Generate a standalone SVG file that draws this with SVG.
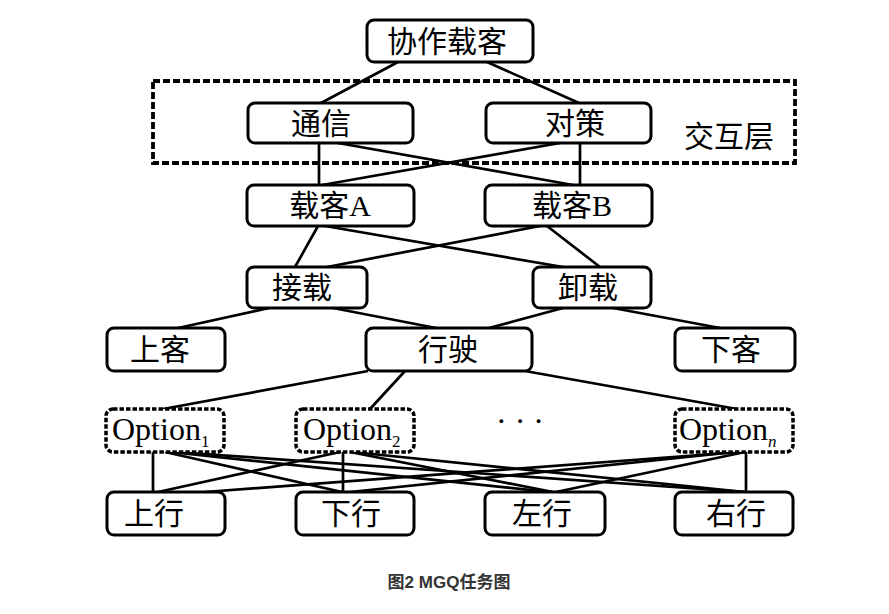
<svg xmlns="http://www.w3.org/2000/svg" width="889" height="614" viewBox="0 0 889 614">
<style>
.box{fill:#fff;stroke:#000;stroke-width:3}
.dbox{fill:#fff;stroke:#000;stroke-width:3.5;stroke-dasharray:4.5 2}
.zh{font-family:"Liberation Serif","Noto Sans CJK SC",serif;font-size:30px;fill:#000;text-anchor:middle}
.opt{font-family:"Liberation Serif",serif;font-size:32px;fill:#000}
.sub{font-size:17px}
#connectors line{stroke:#000;stroke-width:2.7}
</style>
<rect width="889" height="614" fill="#fff"/>
<g id="layer">
<rect x="153" y="81" width="642" height="82" fill="none" stroke="#000" stroke-width="3.8" stroke-dasharray="7 3"/>
<text class="zh" x="729" y="147">交互层</text>
</g>
<g id="connectors">
<line x1="398" y1="62" x2="321" y2="103"/>
<line x1="487" y1="62" x2="579" y2="103"/>
<line x1="319" y1="143" x2="319" y2="185"/>
<line x1="338" y1="143" x2="573" y2="185"/>
<line x1="560" y1="143" x2="322" y2="185"/>
<line x1="580" y1="143" x2="580" y2="185"/>
<line x1="318" y1="226" x2="295" y2="267"/>
<line x1="325" y1="226" x2="563" y2="267"/>
<line x1="540" y1="226" x2="327" y2="267"/>
<line x1="547" y1="226" x2="600" y2="267"/>
<line x1="269" y1="308" x2="178" y2="328"/>
<line x1="333" y1="308" x2="436" y2="328"/>
<line x1="563" y1="308" x2="489" y2="328"/>
<line x1="613" y1="308" x2="720" y2="328"/>
<line x1="368" y1="371" x2="163" y2="409"/>
<line x1="405" y1="371" x2="370" y2="409"/>
<line x1="525" y1="371" x2="737" y2="409"/>
<line x1="153" y1="452" x2="153" y2="492"/>
<line x1="343" y1="452" x2="343" y2="492"/>
<line x1="746" y1="452" x2="746" y2="492"/>
<line x1="165" y1="452" x2="342" y2="492"/>
<line x1="170" y1="452" x2="550" y2="492"/>
<line x1="175" y1="452" x2="745" y2="492"/>
<line x1="340" y1="452" x2="158" y2="492"/>
<line x1="350" y1="452" x2="553" y2="492"/>
<line x1="352" y1="452" x2="745" y2="492"/>
<line x1="740" y1="452" x2="205" y2="492"/>
<line x1="735" y1="452" x2="350" y2="492"/>
<line x1="745" y1="452" x2="556" y2="492"/>
</g>
<g id="n-root"><rect class="box" x="367" y="20" width="166" height="42" rx="7"/><text class="zh" x="447" y="52">协作载客</text></g>
<g id="n-comm"><rect class="box" x="248" y="103" width="165" height="40" rx="7"/><text class="zh" x="321" y="134">通信</text></g>
<g id="n-strat"><rect class="box" x="486" y="103" width="165" height="40" rx="7"/><text class="zh" x="575" y="134">对策</text></g>
<g id="n-carA"><rect class="box" x="247" y="185" width="167" height="41" rx="7"/><text class="zh" x="330" y="216">载客A</text></g>
<g id="n-carB"><rect class="box" x="485" y="185" width="167" height="41" rx="7"/><text class="zh" x="572" y="216">载客B</text></g>
<g id="n-pick"><rect class="box" x="247" y="267" width="120" height="41" rx="7"/><text class="zh" x="302" y="298">接载</text></g>
<g id="n-drop"><rect class="box" x="533" y="267" width="118" height="41" rx="7"/><text class="zh" x="588" y="298">卸载</text></g>
<g id="n-board"><rect class="box" x="107" y="328" width="118" height="43" rx="7"/><text class="zh" x="160" y="360">上客</text></g>
<g id="n-drive"><rect class="box" x="366" y="328" width="166" height="43" rx="7"/><text class="zh" x="448" y="360">行驶</text></g>
<g id="n-alight"><rect class="box" x="675" y="328" width="120" height="43" rx="7"/><text class="zh" x="731" y="360">下客</text></g>
<g id="n-opt1"><rect class="dbox" x="106" y="409" width="118" height="43" rx="7"/><text class="opt" x="112" y="440">Option<tspan class="sub" dy="7">1</tspan></text></g>
<g id="n-opt2"><rect class="dbox" x="296" y="409" width="118" height="43" rx="7"/><text class="opt" x="303" y="440">Option<tspan class="sub" dy="7">2</tspan></text></g>
<g id="n-dots"><text class="opt" x="520" y="432" text-anchor="middle" font-size="24">· · ·</text></g>
<g id="n-optn"><rect class="dbox" x="675" y="409" width="118" height="43" rx="7"/><text class="opt" x="679" y="440">Option<tspan class="sub" dy="7" font-style="italic">n</tspan></text></g>
<g id="n-up"><rect class="box" x="107" y="492" width="118" height="43" rx="7"/><text class="zh" x="154" y="524">上行</text></g>
<g id="n-down"><rect class="box" x="296" y="492" width="118" height="43" rx="7"/><text class="zh" x="351" y="524">下行</text></g>
<g id="n-left"><rect class="box" x="485" y="492" width="120" height="43" rx="7"/><text class="zh" x="542" y="524">左行</text></g>
<g id="n-right"><rect class="box" x="675" y="492" width="118" height="43" rx="7"/><text class="zh" x="736" y="524">右行</text></g>
<text x="449" y="588" text-anchor="middle" font-family="'Liberation Sans','Noto Sans CJK SC',sans-serif" font-weight="bold" font-size="17" fill="#333">图2 MGQ任务图</text>
</svg>
